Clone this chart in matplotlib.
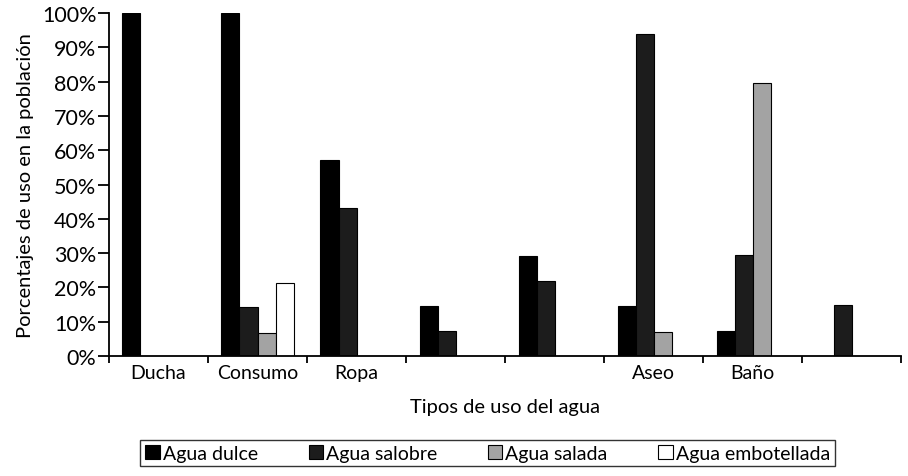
import numpy as np
import matplotlib.pyplot as plt

plt.rcParams['font.family'] = ['Lato', 'DejaVu Sans']

# datos
usos = ['Ducha', 'Consumo', 'Ropa', '', '', 'Aseo', 'Baño', '']
dulce = [100, 100, 57.2, 14.5, 29.2, 14.6, 7.2, 0]
salobre = [0, 14.4, 43.2, 7.2, 22, 94, 29.4, 15]
salada = [0, 6.8, 0, 0, 0, 7.1, 79.5, 0]
embotellada = [0, 21.4, 0, 0, 0, 0, 0, 0]
series = ['Agua dulce', 'Agua salobre', 'Agua salada', 'Agua embotellada']

#----------------------------------------------

fig = plt.figure(figsize=(9.08, 4.77), dpi=100)
ax = fig.add_axes([0.12, 0.2516, 0.8725, 0.719])

x = np.arange(len(usos))
w = 0.182
colores = ['#000000', '#1c1c1c', '#a3a3a3', '#ffffff']
for i, (vals, col, lab) in enumerate(zip([dulce, salobre, salada, embotellada], colores, series)):
    ax.bar(x + 0.5 + (i - 1.5) * w, vals, w, color=col, edgecolor='black', linewidth=0.8, label=lab)

ax.set_xlim(0, len(usos))
ax.set_ylim(0, 100)
ax.set_xticks(np.arange(len(usos) + 1))
ax.set_xticklabels([])
ax.set_xticks(x + 0.5, minor=True)
ax.set_xticklabels(usos, minor=True, fontsize=14)
ax.tick_params(axis='x', which='minor', length=0, pad=6)
ax.tick_params(axis='x', which='major', length=5, width=1.3)
ax.set_yticks(np.arange(0, 101, 10))
ax.set_yticklabels(['%d%%' % v for v in range(0, 101, 10)], fontsize=15.5)
ax.tick_params(axis='y', length=8, width=1.3, pad=1)

ax.spines['top'].set_visible(False)
ax.spines['right'].set_visible(False)
ax.spines['left'].set_linewidth(1.3)
ax.spines['bottom'].set_linewidth(1.3)

ax.set_xlabel('Tipos de uso del agua', fontsize=14.5, labelpad=12)
ax.set_ylabel('Porcentajes de uso en la población', fontsize=14.5, labelpad=6)

leg = fig.legend(loc='center', bbox_to_anchor=(0.537, 0.048), ncol=4, fontsize=14,
                 frameon=True, fancybox=False, edgecolor='black',
                 handlelength=0.75, handleheight=0.75, handletextpad=0.15,
                 columnspacing=2.6, borderpad=0.25)
leg.get_frame().set_linewidth(1.0)

plt.savefig('out.png', dpi=100)
